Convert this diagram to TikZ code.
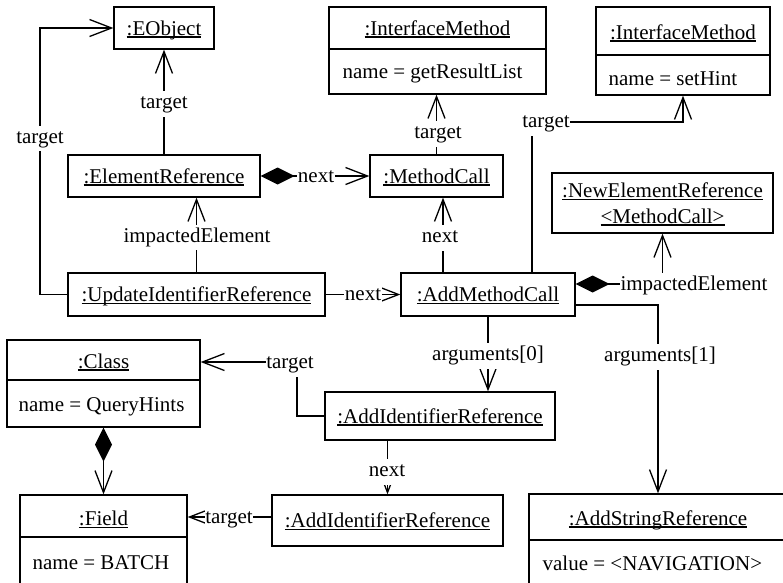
\documentclass[tikz,border=0pt]{standalone}
\usepackage{fontspec}
\setmainfont{Liberation Serif}
\usetikzlibrary{arrows.meta}
% object names are underlined with a rule at a fixed depth below the baseline
\newcommand\objname[1]{\leavevmode\setbox0\hbox{#1}\rlap{\vrule width\wd0 height -1.4pt depth 2.5pt}\box0}
\tikzset{
  diag/.style={x=1pt, y=-1pt, font=\fontsize{21}{25}\selectfont, line width=1.3pt},
  objbox/.style={draw, inner sep=0pt, text height=14pt, text depth=0pt},
  frame/.style={draw, inner sep=0pt},
  txt/.style={inner sep=0pt, text height=14pt, text depth=0pt},
  attr/.style={txt, anchor=west},
  lbl/.style={fill=white, inner xsep=0.6pt, inner ysep=8pt, text height=9.5pt, text depth=0pt},
  assoc/.style={-{Straight Barb[length=22pt,width=17pt]}},
  compo/.style={{Kite[length=34pt,width=17pt,inset=17pt]}-{Straight Barb[length=22pt,width=17pt]}},
}
\begin{document}
\begin{tikzpicture}[diag]
\useasboundingbox (0,0) rectangle (783,582);
\clip (0,0) rectangle (783,582);

% ---------- objects ----------
\node[objbox, minimum width=100pt, minimum height=42pt] (eobj) at (164,28) {\objname{:EObject}};

\node[frame, minimum width=217pt, minimum height=87pt] (im1) at (437.5,50.5) {};
\node[txt] (im1h) at (437.5,28) {\objname{:InterfaceMethod}};
\draw (im1.west |- 0,49) -- (im1.east |- 0,49);
\node[attr] (im1a) at (342,71.5) {name = getResultList};

\node[frame, minimum width=174pt, minimum height=88pt] (im2) at (683,51) {};
\node[txt] (im2h) at (683,32) {\objname{:InterfaceMethod}};
\draw (im2.west |- 0,55) -- (im2.east |- 0,55);
\node[attr] (im2a) at (608,78) {name = setHint};

\node[objbox, minimum width=192pt, minimum height=42pt] (er) at (164,176) {\objname{:ElementReference}};
\node[objbox, minimum width=133pt, minimum height=42pt] (mc) at (436.5,176) {\objname{:MethodCall}};

\node[frame, minimum width=221pt, minimum height=60pt] (ner) at (662.5,203) {};
\node[txt] (nerh1) at (662.5,190.5) {\objname{:NewElementReference}};
\node[txt] (nerh2) at (662.5,216) {\objname{<MethodCall>}};

\node[objbox, minimum width=257pt, minimum height=43pt] (uir) at (196.5,294.5) {\objname{:UpdateIdentifierReference}};
\node[objbox, minimum width=174pt, minimum height=43pt] (amc) at (488,294.5) {\objname{:AddMethodCall}};

\node[frame, minimum width=193pt, minimum height=87pt] (cls) at (103.5,383.5) {};
\node[txt] (clsh) at (103.5,361) {\objname{:Class}};
\draw (cls.west |- 0,380) -- (cls.east |- 0,380);
\node[attr] (clsa) at (18,404.5) {name = QueryHints};

\node[objbox, minimum width=230pt, minimum height=48pt] (air1) at (440,416) {\objname{:AddIdentifierReference}};
\node[objbox, minimum width=231pt, minimum height=51pt] (air2) at (387.5,520.5) {\objname{:AddIdentifierReference}};

\node[frame, minimum width=167pt, minimum height=90pt] (fld) at (103.5,540) {};
\node[txt] (fldh) at (103.5,518.5) {\objname{:Field}};
\draw (fld.west |- 0,537) -- (fld.east |- 0,537);
\node[attr] (flda) at (32,562) {name = BATCH};

\node[frame, minimum width=258pt, minimum height=92pt] (asr) at (658,540) {};
\node[txt] (asrh) at (658,518) {\objname{:AddStringReference}};
\draw (asr.west |- 0,540) -- (asr.east |- 0,540);
\node[attr] (asra) at (542,563) {value = <NAVIGATION>};

% ---------- links ----------
\draw[assoc] (uir.west) -- (uir.west -| 40,0) |- (eobj.west);
\draw[assoc] (er.north) -- (eobj.south);
\draw[compo] (er.east) -- (mc.west);
\draw[assoc] (mc.north) -- (mc.north |- im1.south);
\draw[assoc] (uir.north) -- (uir.north |- er.south);
\draw[assoc] (uir.east) -- (amc.west);
\draw[assoc] ([xshift=-45pt]amc.north) -- ([xshift=-45pt]amc.north |- mc.south);
\draw[assoc] ([xshift=44pt]amc.north) |- (im2.south |- 0,122) -- (im2.south);
\draw[compo] ([yshift=10.5pt]amc.east) -| (ner.south);
\draw[assoc] (amc.south) -- (amc.south |- air1.north);
\draw[assoc] ([yshift=-10.5pt]amc.east) -| (asr.north);
\draw[assoc] (air1.west) -| (297,362) -- (cls.east |- 0,362);
\draw[assoc] (air1.south -| air2.north) -- (air2.north);
\draw[assoc] (air2.west |- 0,517) -- (fld.east |- 0,517);
\draw[compo] (cls.south) -- (fld.north);

% ---------- link labels ----------
\node[lbl] (l1) at (40,138.5) {target};
\node[lbl] (l2) at (164,104) {target};
\node[lbl] (l3) at (316,178) {next};
\node[lbl] (l4) at (438,134) {target};
\node[lbl] (l5) at (197,237.5) {impactedElement};
\node[lbl] (l6) at (363,296) {next};
\node[lbl] (l7) at (440,238) {next};
\node[lbl] (l8) at (546,123) {target};
\node[lbl] (l9) at (694,285.5) {impactedElement};
\node[lbl] (l10) at (488,356) {arguments[0]};
\node[lbl] (l11) at (660,357) {arguments[1]};
\node[lbl] (l12) at (290,364) {target};
\node[lbl] (l13) at (387,472) {next};
\node[lbl] (l14) at (229,519) {target};
\end{tikzpicture}
\end{document}
